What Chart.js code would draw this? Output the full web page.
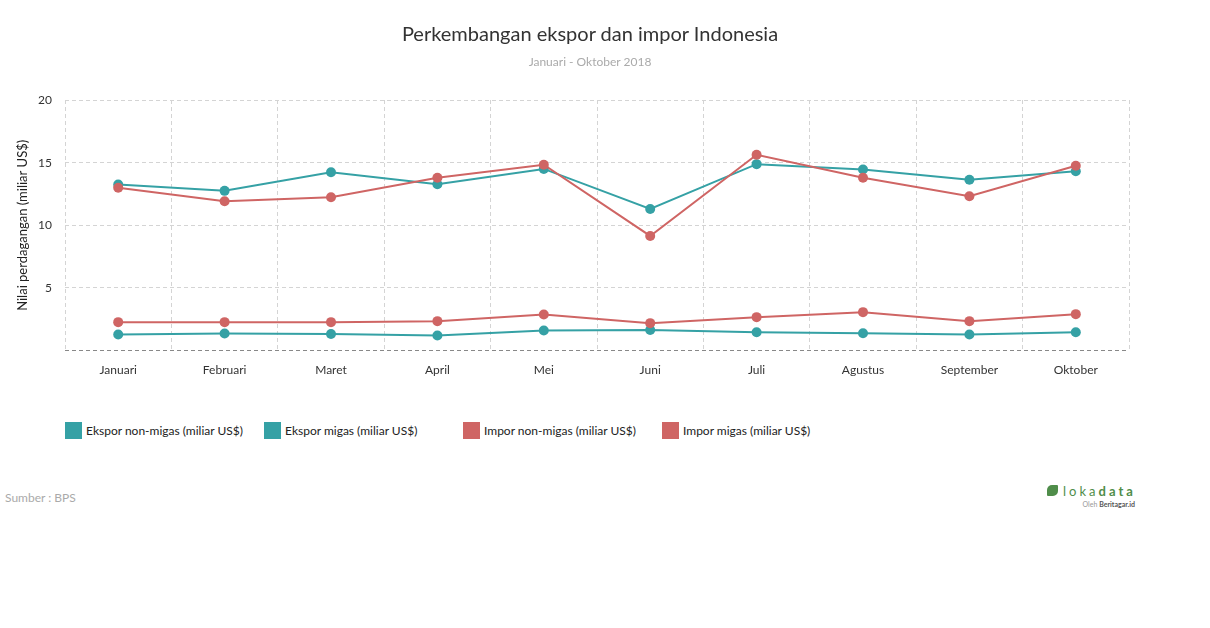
<!DOCTYPE html>
<html>
<head>
<meta charset="utf-8">
<script src="https://cdn.jsdelivr.net/npm/chart.js@4.4.0/dist/chart.umd.min.js"></script>
<style>
  body { margin: 0; background: #fff; font-family: Lato, sans-serif; }
  #wrap { position: relative; width: 1210px; height: 628px; }
  #title { position: absolute; left: 0; top: 21px; width: 1180px; text-align: center; font-size: 20px; line-height: 24px; color: #333; }
  #subtitle { position: absolute; left: 0; top: 55px; width: 1180px; text-align: center; font-size: 12px; line-height: 14px; color: #aaa; }
  #box { position: absolute; left: 0; top: 0; width: 1180px; height: 389px; }
  #legend { position: absolute; left: 65px; top: 422px; display: flex; }
  .item { width: 199px; display: flex; align-items: center; font-size: 12px; color: #222; }
  .sw { width: 17px; height: 17px; margin-right: 4px; }
  #source { position: absolute; left: 5px; top: 490px; font-size: 12px; color: #aaa; }
  #logo { position: absolute; left: 1047px; top: 479px; width: 90px; }
  #logo .leaf { display: inline-block; width: 11px; height: 11px; background: #4f8d4a; border-radius: 5px 1px 5px 1px; vertical-align: middle; margin-right: 5px; }
  #logo .name { font-size: 13px; letter-spacing: 3px; color: #4f8d4a; vertical-align: middle; }
  #logo .name b { font-weight: 700; }
  #logo .by { font-size: 7px; color: #999; text-align: right; margin-right: 2px; margin-top: 1px; }
  #logo .by b { color: #555; }
</style>
</head>
<body>
<div id="wrap">
  <div id="box"><canvas id="trade"></canvas></div>
  <div id="title">Perkembangan ekspor dan impor Indonesia</div>
  <div id="subtitle">Januari - Oktober 2018</div>
  <div id="legend"></div>
  <div id="source">Sumber : BPS</div>
  <div id="logo">
    <span class="leaf"></span><span class="name">loka<b>data</b></span>
    <div class="by">Oleh <b>Beritagar.id</b></div>
  </div>
</div>
<script>
Chart.defaults.font.family = "Lato, sans-serif";
Chart.defaults.font.size = 12;

var months = ['Januari', 'Februari', 'Maret', 'April', 'Mei', 'Juni', 'Juli', 'Agustus', 'September', 'Oktober'];
var eksporNonMigas = [13.25, 12.75, 14.24, 13.28, 14.5, 11.3, 14.88, 14.45, 13.63, 14.32];
var eksporMigas = [1.28, 1.36, 1.33, 1.2, 1.6, 1.65, 1.47, 1.39, 1.28, 1.47];
var imporNonMigas = [13.0, 11.92, 12.24, 13.8, 14.83, 9.15, 15.63, 13.79, 12.32, 14.75];
var imporMigas = [2.27, 2.27, 2.27, 2.35, 2.88, 2.19, 2.67, 3.07, 2.35, 2.91];

var teal = '#35a1a5';
var red = '#cf6564';

function series(label, values, color, order) {
	return {
		label: label,
		data: values,
		borderColor: color,
		backgroundColor: color,
		borderWidth: 2,
		pointRadius: 5,
		pointHoverRadius: 6,
		pointBorderWidth: 0,
		tension: 0,
		order: order
	};
}

var ctx = document.getElementById("trade").getContext("2d");
var tradeChart = new Chart(ctx, {
	type: 'line',
	data: {
		labels: months,
		datasets: [
			series('Ekspor non-migas (miliar US$)', eksporNonMigas, teal, 2),
			series('Ekspor migas (miliar US$)', eksporMigas, teal, 2),
			series('Impor non-migas (miliar US$)', imporNonMigas, red, 1),
			series('Impor migas (miliar US$)', imporMigas, red, 1)
		]
	},
	options: {
		responsive: true,
		maintainAspectRatio: false,
		animation: false,
		layout: { padding: { top: 100, left: 15, right: 51, bottom: 0 } },
		plugins: {
			legend: { display: false },
			title: { display: false }
		},
		scales: {
			x: {
				offset: true,
				grid: { offset: true, color: '#d4d4d4', drawTicks: false },
				border: { display: false, dash: [4, 3] },
				ticks: { color: '#333', padding: 12, maxRotation: 0 }
			},
			y: {
				min: 0,
				max: 20,
				afterFit: function(scale) { scale.width = 50; },
				grid: {
					drawTicks: false,
					color: function(c) { return c.tick && c.tick.value === 0 ? '#888' : '#d4d4d4'; }
				},
				border: { display: false, dash: [4, 3] },
				ticks: {
					stepSize: 5,
					color: '#333',
					padding: 13,
					callback: function(v) { return v === 0 ? '' : v; }
				},
				title: {
					display: true,
					text: 'Nilai perdagangan (miliar US$)',
					color: '#222',
					font: { size: 13 },
					padding: { top: 0, bottom: 0 }
				}
			}
		}
	}
});

var legend = document.getElementById('legend');
tradeChart.data.datasets.forEach(function(ds) {
	var item = document.createElement('div');
	item.className = 'item';
	var sw = document.createElement('span');
	sw.className = 'sw';
	sw.style.background = ds.borderColor;
	item.appendChild(sw);
	item.appendChild(document.createTextNode(ds.label));
	legend.appendChild(item);
});
</script>
</body>
</html>
